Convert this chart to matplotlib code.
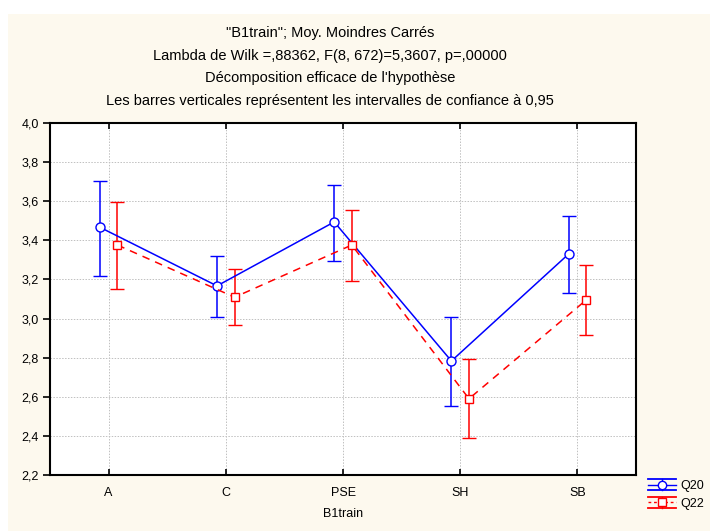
import numpy as np
import matplotlib.pyplot as plt
from matplotlib.patches import Rectangle
from matplotlib.lines import Line2D
from matplotlib.legend_handler import HandlerBase

plt.rcParams['font.family'] = ['Liberation Sans', 'DejaVu Sans']

categories = ['A', 'C', 'PSE', 'SH', 'SB']
q20_mean = [3.467, 3.167, 3.494, 2.783, 3.330]
q20_low = [3.219, 3.008, 3.294, 2.555, 3.131]
q20_high = [3.705, 3.322, 3.683, 3.008, 3.526]
q22_mean = [3.376, 3.109, 3.376, 2.590, 3.095]
q22_low = [3.151, 2.967, 3.192, 2.388, 2.916]
q22_high = [3.595, 3.254, 3.555, 2.795, 3.274]
yticks = [2.2, 2.4, 2.6, 2.8, 3.0, 3.2, 3.4, 3.6, 3.8, 4.0]

titles = ['"B1train"; Moy. Moindres Carrés',
          'Lambda de Wilk =,88362, F(8, 672)=5,3607, p=,00000',
          "Décomposition efficace de l'hypothèse",
          'Les barres verticales représentent les intervalles de confiance à 0,95']


class ErrHandler(HandlerBase):
    def __init__(self, color, marker, ls):
        super().__init__()
        self.color, self.marker, self.ls = color, marker, ls

    def create_artists(self, legend, orig, xd, yd, w, h, fs, trans):
        c = self.color
        ym = h / 2 - yd
        arts = [
            Line2D([-xd, w - xd], [ym + 4, ym + 4], color=c, lw=1.3),
            Line2D([-xd, w - xd], [ym - 4, ym - 4], color=c, lw=1.3),
            Line2D([-xd, w - xd], [ym, ym], color=c, lw=1, ls=self.ls),
            Line2D([w / 2 - xd, w / 2 - xd], [ym - 4, ym + 4], color=c, lw=1),
            Line2D([w / 2 - xd], [ym], color=c, marker=self.marker, ms=6,
                   mfc='white', mec=c, mew=1),
        ]
        for a in arts:
            a.set_transform(trans)
        return arts


fig = plt.figure(figsize=(7.1, 5.31), dpi=100, facecolor='white')
fig.patches.append(Rectangle((8 / 710, 0), 1, 1 - 14 / 531, transform=fig.transFigure,
                             facecolor='#fdf9ee', edgecolor='none', zorder=-1))

ax = fig.add_axes([50 / 710, 56 / 531, 586 / 710, 352 / 531])
ax.set_facecolor('white')
x = np.arange(len(categories))
off = 0.075

m20 = np.array(q20_mean)
m22 = np.array(q22_mean)
ax.errorbar(x - off, m20, yerr=[m20 - np.array(q20_low), np.array(q20_high) - m20],
            color='#0000ff', lw=1.1, ls='-', marker='o', ms=6.5, mfc='white', mec='#0000ff',
            mew=1, capsize=5, capthick=1.1, elinewidth=1.1, zorder=3)
ax.errorbar(x + off, m22, yerr=[m22 - np.array(q22_low), np.array(q22_high) - m22],
            color='#ff0000', lw=1.1, ls=(0, (5, 4)), marker='s', ms=6, mfc='white', mec='#ff0000',
            mew=1, capsize=5, capthick=1.1, elinewidth=1.1, zorder=3)

ax.set_xlim(-0.5, 4.5)
ax.set_ylim(2.2, 4.0)
ax.set_xticks(x)
ax.set_xticklabels(categories)
ax.set_yticks(yticks)
ax.set_yticklabels([f'{v:.1f}'.replace('.', ',') for v in yticks])
ax.grid(True, color='#c0c0c0', ls=(0, (1.5, 1.5)), lw=0.7)
ax.tick_params(axis='x', direction='in', top=True, length=4, width=1.2, labelsize=9, pad=9)
ax.tick_params(axis='y', direction='out', length=5, width=1.2, labelsize=9, pad=3)
for s in ax.spines.values():
    s.set_linewidth(1.5)
ax.set_xlabel('B1train', fontsize=9, labelpad=6)

for i, t in enumerate(titles):
    fig.text(330 / 710, 1 - (33 + 22.6 * i) / 531, t, ha='center', va='center', fontsize=10.5)

h20 = Line2D([], [], color='blue')
h22 = Line2D([], [], color='red')
fig.legend([h20, h22], ['Q20', 'Q22'], loc='center left', bbox_to_anchor=(648 / 710, 1 - 495 / 531),
           frameon=False, fontsize=9, handlelength=2.2, handletextpad=0.4,
           labelspacing=0.45, borderpad=0, borderaxespad=0,
           handler_map={h20: ErrHandler('blue', 'o', '-'), h22: ErrHandler('red', 's', (0, (2, 2)))})

fig.savefig('out.png', dpi=100, facecolor=fig.get_facecolor())
